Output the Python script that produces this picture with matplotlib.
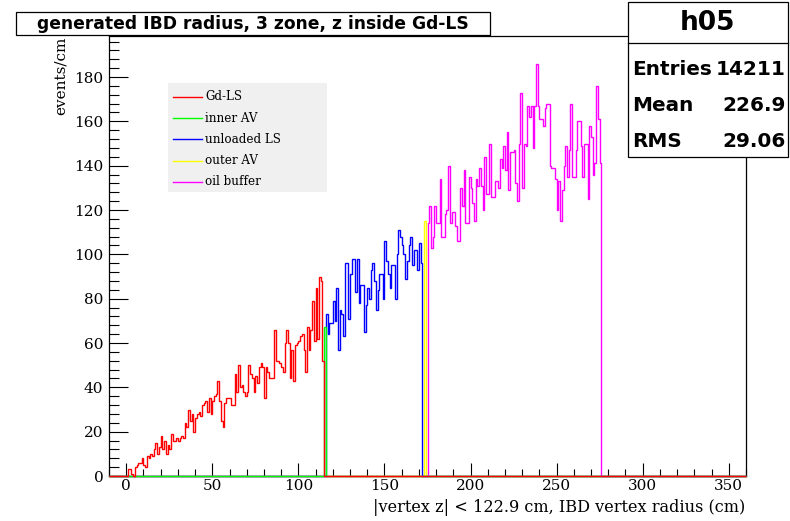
import numpy as np
import matplotlib
matplotlib.use('Agg')
import matplotlib.pyplot as plt
from matplotlib.lines import Line2D
from matplotlib.patches import Rectangle
from matplotlib.ticker import MultipleLocator

plt.rcParams['font.family'] = 'DejaVu Serif'

# histogram range, 1 cm bins
x_lo, x_hi = -10, 360

# events/cm per bin, each zone starts at its own first bin (cm)
gdls_start = 0
gdls = [0, 3, 3, 1, 0, 4, 5, 6, 6, 8, 5, 4, 9, 8, 10, 9, 12, 15, 10, 13,
        18, 12, 16, 10, 14, 12, 19, 16, 16, 17, 16, 17, 18, 17, 24, 22, 30, 25, 28, 20,
        26, 28, 29, 27, 32, 33, 34, 29, 35, 28, 34, 36, 37, 43, 34, 25, 22, 33, 35, 35,
        35, 32, 32, 46, 38, 50, 40, 41, 38, 36, 38, 50, 46, 44, 38, 45, 42, 49, 51, 49,
        35, 49, 47, 44, 44, 44, 66, 52, 52, 51, 49, 47, 60, 66, 60, 44, 57, 43, 59, 60,
        61, 63, 64, 57, 47, 67, 57, 66, 79, 61, 85, 62, 90, 88, 52]

inner_av_start = 115
inner_av = [67]

unloaded_ls_start = 116
unloaded_ls = [73, 64, 69, 69, 79, 70, 85, 57, 75, 73, 63, 96, 96, 71, 91, 98, 98, 83, 98, 78,
               86, 86, 65, 77, 85, 80, 93, 96, 88, 75, 84, 91, 91, 80, 106, 97, 91, 85, 95, 95,
               80, 100, 111, 108, 104, 100, 89, 97, 104, 108, 95, 102, 102, 93, 105, 96]

outer_av_start = 173
outer_av = [115]

oil_start = 175
oil = [114, 122, 103, 108, 122, 114, 114, 134, 108, 108, 118, 120, 140, 114, 119, 119, 113, 106, 106, 130,
       122, 138, 114, 114, 135, 130, 123, 115, 134, 131, 139, 131, 120, 144, 127, 127, 150, 126, 126, 133,
       133, 130, 143, 139, 149, 138, 155, 129, 146, 146, 147, 132, 124, 150, 173, 130, 150, 149, 167, 162,
       167, 148, 167, 186, 167, 161, 161, 158, 166, 168, 168, 140, 139, 139, 134, 120, 133, 115, 129, 140,
       149, 135, 147, 168, 135, 135, 147, 160, 160, 149, 135, 150, 150, 125, 158, 153, 136, 141, 176, 161,
       141]

zone_names = ['Gd-LS', 'inner AV', 'unloaded LS', 'outer AV', 'oil buffer']
zone_colors = ['#ff0000', '#00ff00', '#0000ff', '#ffff00', '#ff00ff']

stats_name = 'h05'
stats_rows = [('Entries', '14211'), ('Mean', '226.9'), ('RMS', '29.06')]

title = 'generated IBD radius, 3 zone, z inside Gd-LS'
x_title = '|vertex z| < 122.9 cm, IBD vertex radius (cm)'
y_title = 'events/cm'

W, H = 790, 521


def fx(x):
    return x / W


def fy(y):
    return 1 - y / H


def full_hist(start, values):
    counts = np.zeros(x_hi - x_lo)
    i0 = start - x_lo
    counts[i0:i0 + len(values)] = values
    return counts


edges = np.arange(x_lo, x_hi + 1)
hists = [full_hist(gdls_start, gdls), full_hist(inner_av_start, inner_av),
         full_hist(unloaded_ls_start, unloaded_ls), full_hist(outer_av_start, outer_av),
         full_hist(oil_start, oil)]

fig = plt.figure(figsize=(W / 100, H / 100), dpi=100)
ax = fig.add_axes([fx(109), fy(476), (746 - 109) / W, (476 - 36) / H])

# oil buffer first, Gd-LS last so its zero line sits on top
for idx in [4, 3, 2, 1, 0]:
    ax.stairs(hists[idx], edges, color=zone_colors[idx], lw=1.0,
              zorder=3 + (4 - idx), clip_on=False)

ax.set_xlim(x_lo, x_hi)
ax.set_ylim(0, 198.5)
ax.xaxis.set_major_locator(MultipleLocator(50))
ax.xaxis.set_minor_locator(MultipleLocator(10))
ax.yaxis.set_major_locator(MultipleLocator(20))
ax.yaxis.set_minor_locator(MultipleLocator(4))
ax.tick_params(axis='x', which='major', direction='in', length=9.5, width=0.8,
               labelsize=11, pad=2, top=False)
ax.tick_params(axis='x', which='minor', direction='in', length=4.8, width=0.8, top=False)
ax.tick_params(axis='y', which='major', direction='in', length=13.7, width=0.8,
               labelsize=11, pad=4, right=False)
ax.tick_params(axis='y', which='minor', direction='in', length=6.9, width=0.8, right=False)
for s in ax.spines.values():
    s.set_linewidth(0.9)

fig.text(fx(745), fy(512), x_title, ha='right', va='baseline', fontsize=11.6)
fig.text(fx(61), fy(37), y_title, ha='center', va='top', rotation=90, fontsize=11)

# title box
fig.patches.append(Rectangle((fx(16), fy(35)), (490 - 16) / W, (35 - 12) / H,
                             transform=fig.transFigure, facecolor='white',
                             edgecolor='black', lw=0.9))
fig.text(fx(253), fy(24), title, ha='center', va='center', fontsize=12.3,
         family='DejaVu Sans', weight='bold')

# stats box
fig.patches.append(Rectangle((fx(628), fy(157)), (788 - 628) / W, (157 - 2) / H,
                             transform=fig.transFigure, facecolor='white',
                             edgecolor='black', lw=0.9, zorder=5))
fig.lines.append(Line2D([fx(628), fx(788)], [fy(43), fy(43)], transform=fig.transFigure,
                        color='black', lw=0.9, zorder=6))
fig.text(fx(708), fy(23), stats_name, ha='center', va='center', fontsize=19,
         family='DejaVu Sans', weight='bold', zorder=7)
for row, (label, value) in enumerate(stats_rows):
    y = 69.5 + row * 36
    fig.text(fx(632), fy(y), label, ha='left', va='center', fontsize=14.4,
             family='DejaVu Sans', weight='bold', zorder=7)
    fig.text(fx(786), fy(y), value, ha='right', va='center', fontsize=14.4,
             family='DejaVu Sans', weight='bold', zorder=7)

# legend
fig.patches.append(Rectangle((fx(168), fy(192)), (327 - 168) / W, (192 - 83) / H,
                             transform=fig.transFigure, facecolor='#f0f0f0',
                             edgecolor='none', zorder=5))
for i, (name, color) in enumerate(zip(zone_names, zone_colors)):
    y = 96.7 + i * 21.3
    fig.lines.append(Line2D([fx(173), fx(202)], [fy(y), fy(y)], transform=fig.transFigure,
                            color=color, lw=1.0, zorder=6))
    fig.text(fx(205), fy(y), name, ha='left', va='center', fontsize=8.6, zorder=7)

fig.savefig('out.png', dpi=100)
